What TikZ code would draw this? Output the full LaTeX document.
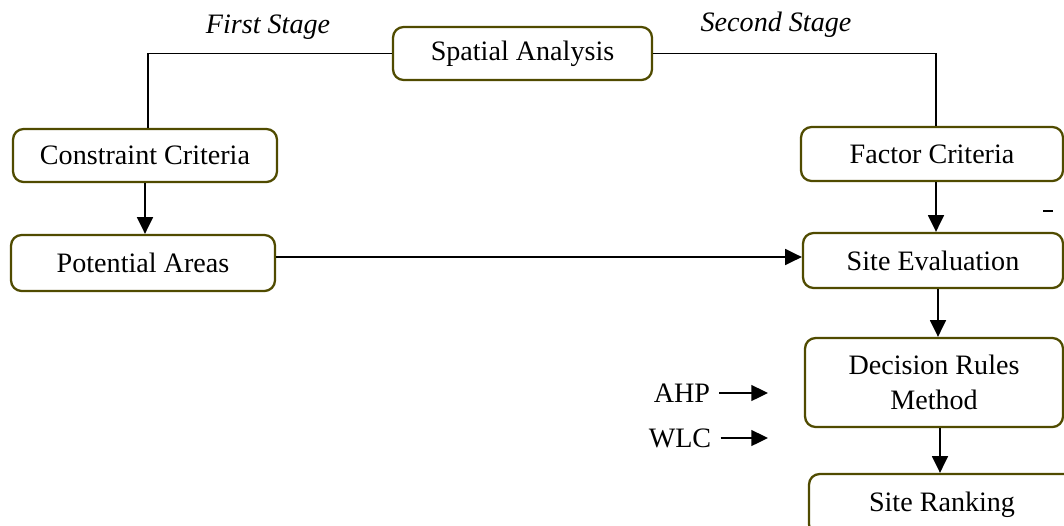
\documentclass[tikz,border=0pt]{standalone}
\usepackage{fontspec}
\setmainfont{Liberation Serif}
\usetikzlibrary{arrows.meta}
\definecolor{boxline}{RGB}{80,75,0}
\begin{document}
\begin{tikzpicture}[x=0.02cm,y=-0.02cm,
 box/.style={draw=boxline, line width=1.3pt, rounded corners=6pt, align=center, inner sep=0pt, font=\fontsize{16}{19.8}\selectfont},
 conn/.style={draw=black, line width=1.1pt},
 arr/.style={conn, -{Triangle[length=9.5pt,width=9pt]}},
 lbl/.style={font=\fontsize{16}{19}\selectfont, inner sep=0pt},
 stage/.style={font=\fontsize{16}{19}\selectfont\itshape, inner sep=0pt}]
\useasboundingbox (0,0) rectangle (1064,525);
\clip (0,0) rectangle (1064,525);
% boxes
\node[box, minimum width=5.18cm, minimum height=1.06cm] (sa) at (522.5,53.5) {Spatial Analysis};
\node[box, minimum width=5.28cm, minimum height=1.06cm] (cc) at (145,155.5) {Constraint Criteria};
\node[box, minimum width=5.28cm, minimum height=1.12cm] (pa) at (143,263) {Potential Areas};
\node[box, minimum width=5.24cm, minimum height=1.08cm] (fc) at (932,154) {Factor Criteria};
\node[box, minimum width=5.20cm, minimum height=1.10cm] (se) at (933,260.5) {Site Evaluation};
\node[box, minimum width=5.16cm, minimum height=1.78cm] (dr) at (934,382.5) {Decision Rules\\Method};
\node[box, minimum width=5.32cm, minimum height=1.22cm] (sr) at (942,504.5) {Site Ranking};
% stage labels
\node[stage] (s1) at (268,27) {First Stage};
\node[stage] (s2) at (776,25) {Second Stage};
% connectors
\draw[conn] (sa.west) -| ([xshift=0.06cm]cc.north);
\draw[conn] (sa.east) -| ([xshift=0.08cm]fc.north);
\draw[arr] (cc.south) -- (cc.south |- pa.north);
\draw[arr] ([xshift=0.08cm]fc.south) -- ([xshift=0.08cm]fc.south |- se.north);
\draw[arr] ([yshift=0.12cm]pa.east) -- ([yshift=0.12cm]pa.east -| se.west);
\draw[arr] ([xshift=0.1cm]se.south) -- ([xshift=0.1cm]se.south |- dr.north);
\draw[arr] ([xshift=0.12cm]dr.south) -- ([xshift=0.12cm]dr.south |- sr.north);
% AHP / WLC
\node[lbl] (ahp) at (682,393) {AHP};
\node[lbl] (wlc) at (680,438) {WLC};
\coordinate (ahpend) at (768,394);
\coordinate (wlcend) at (768,438);
\draw[arr] ([xshift=0.18cm]ahp.east) -- (ahp.east -| ahpend);
\draw[arr] ([xshift=0.18cm]wlc.east) -- (wlc.east -| wlcend);
% small dash
\draw[line width=1.3pt] (1043,211) -- (1053,211);
\end{tikzpicture}
\end{document}
